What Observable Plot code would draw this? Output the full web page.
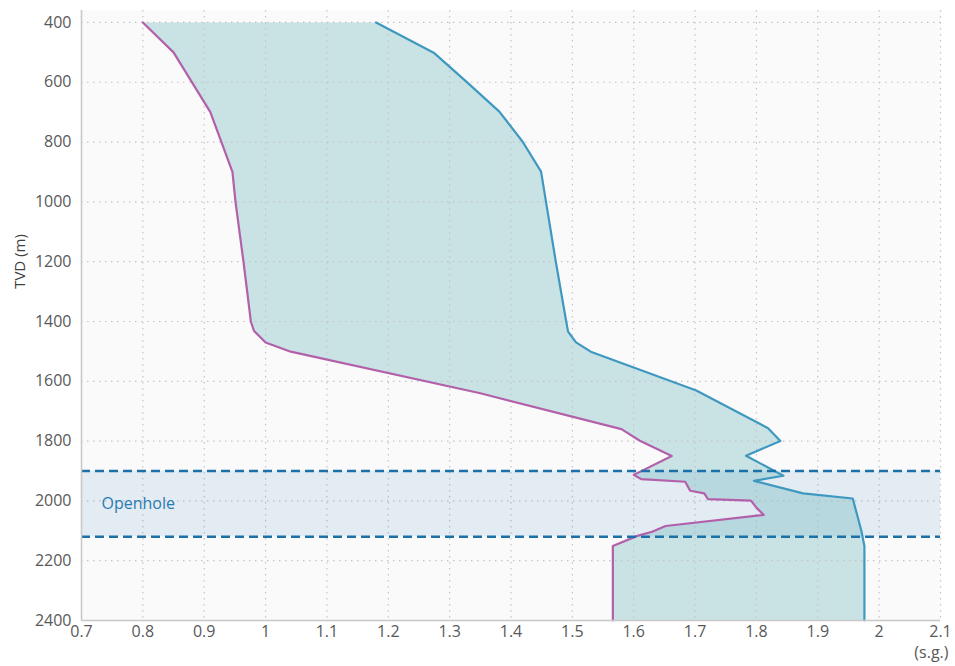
<!DOCTYPE html>
<html>
<head>
<meta charset="utf-8">
<script src="https://cdn.jsdelivr.net/npm/d3@7"></script>
<script src="https://cdn.jsdelivr.net/npm/@observablehq/plot@0.6"></script>
<style>
  html, body { margin: 0; padding: 0; background: #ffffff; }
  #chart { width: 955px; height: 666px; }
</style>
</head>
<body>
<div id="chart"></div>
<script>
// Lower curve (magenta): specific gravity vs TVD (m)
const lowDepth = [400, 500, 700, 900, 1000, 1200, 1400, 1431, 1470, 1501, 1640, 1760, 1799, 1850, 1913, 1927, 1936, 1966, 1975, 1994, 1999, 2025, 2047, 2084, 2103, 2117, 2151, 2400];
const lowSG    = [0.80, 0.85, 0.91, 0.946, 0.951, 0.964, 0.976, 0.981, 1.00, 1.041, 1.35, 1.58, 1.61, 1.662, 1.60, 1.612, 1.684, 1.692, 1.715, 1.721, 1.791, 1.801, 1.812, 1.652, 1.630, 1.606, 1.566, 1.566];

// Upper curve (blue)
const highDepth = [400, 501, 601, 698, 799, 899, 1200, 1400, 1434, 1470, 1501, 1631, 1757, 1800, 1849, 1916, 1933, 1975, 1992, 2100, 2151, 2400];
const highSG    = [1.180, 1.274, 1.329, 1.381, 1.419, 1.449, 1.473, 1.490, 1.493, 1.506, 1.530, 1.702, 1.819, 1.839, 1.783, 1.844, 1.796, 1.876, 1.957, 1.971, 1.976, 1.976];

// Openhole interval
const openholeTop = 1900;
const openholeBottom = 2120;
const openholeLabel = "Openhole";

// Axes
const xTicks = [0.7, 0.8, 0.9, 1.0, 1.1, 1.2, 1.3, 1.4, 1.5, 1.6, 1.7, 1.8, 1.9, 2.0, 2.1];
const yTicks = [400, 600, 800, 1000, 1200, 1400, 1600, 1800, 2000, 2200, 2400];
const xDomain = [0.7, 2.1];
const yDomain = [360, 2400];
const yLabel = "TVD (m)";
const xUnit = "(s.g.)";

const low = lowDepth.map((d, i) => ({depth: d, sg: lowSG[i]}));
const high = highDepth.map((d, i) => ({depth: d, sg: highSG[i]}));
// closed outline between the two curves (low top->bottom, then high bottom->top)
const envelope = low.concat(high.slice().reverse());

const fmt = d => String(+(+d).toFixed(1));

const chart = Plot.plot({
  width: 955,
  height: 666,
  marginLeft: 81,
  marginRight: 15,
  marginTop: 10,
  marginBottom: 46,
  style: {fontFamily: "'Open Sans', sans-serif", fontSize: "16px", color: "#595959", background: "#ffffff"},
  x: {domain: xDomain, axis: null},
  y: {domain: yDomain, reverse: true, axis: null},
  marks: [
    Plot.frame({fill: "#fafafa", stroke: "none"}),
    Plot.line(envelope, {x: "sg", y: "depth", fill: "#c9e3e5", stroke: "none", curve: "linear"}),
    Plot.gridX(xTicks, {stroke: "#c4c4c4", strokeOpacity: 1, strokeWidth: 1.2, strokeDasharray: "1.5,4.5"}),
    Plot.gridY(yTicks.filter(d => d < 2400), {stroke: "#c4c4c4", strokeOpacity: 1, strokeWidth: 1.2, strokeDasharray: "1.5,4.5"}),
    Plot.rectY([{y1: openholeTop, y2: openholeBottom}], {y1: "y1", y2: "y2", fill: "#2a7fb5", fillOpacity: 0.11}),
    Plot.line(low, {x: "sg", y: "depth", stroke: "#b260aa", strokeWidth: 2.2}),
    Plot.line(high, {x: "sg", y: "depth", stroke: "#3e98c0", strokeWidth: 2.2}),
    Plot.ruleY([openholeTop, openholeBottom], {stroke: "#1c70a8", strokeWidth: 2.5, strokeDasharray: "9,5"}),
    Plot.text([openholeLabel], {y: [(openholeTop + openholeBottom) / 2], frameAnchor: "left", dx: 20, textAnchor: "start", fill: "#2a7bb0", fontSize: 16}),
    Plot.ruleX([xDomain[0]], {stroke: "#c8c8c8", strokeWidth: 1.5}),
    Plot.ruleY([yDomain[1]], {stroke: "#c8c8c8", strokeWidth: 1.5}),
    Plot.axisX(xTicks, {tickSize: 0, tickPadding: 5, tickFormat: fmt, fontSize: 16, label: null}),
    Plot.axisY(yTicks, {tickSize: 0, tickPadding: 10, tickFormat: d => String(d), fontSize: 16, label: null}),
    Plot.text([yLabel], {frameAnchor: "left", dx: -61, dy: -54, rotate: -90, textAnchor: "middle", fontSize: 15, fill: "#404040"}),
    Plot.text([xUnit], {frameAnchor: "bottom-right", dx: 8, dy: 37, textAnchor: "end", fontSize: 16})
  ]
});
document.getElementById("chart").appendChild(chart);
</script>
</body>
</html>
